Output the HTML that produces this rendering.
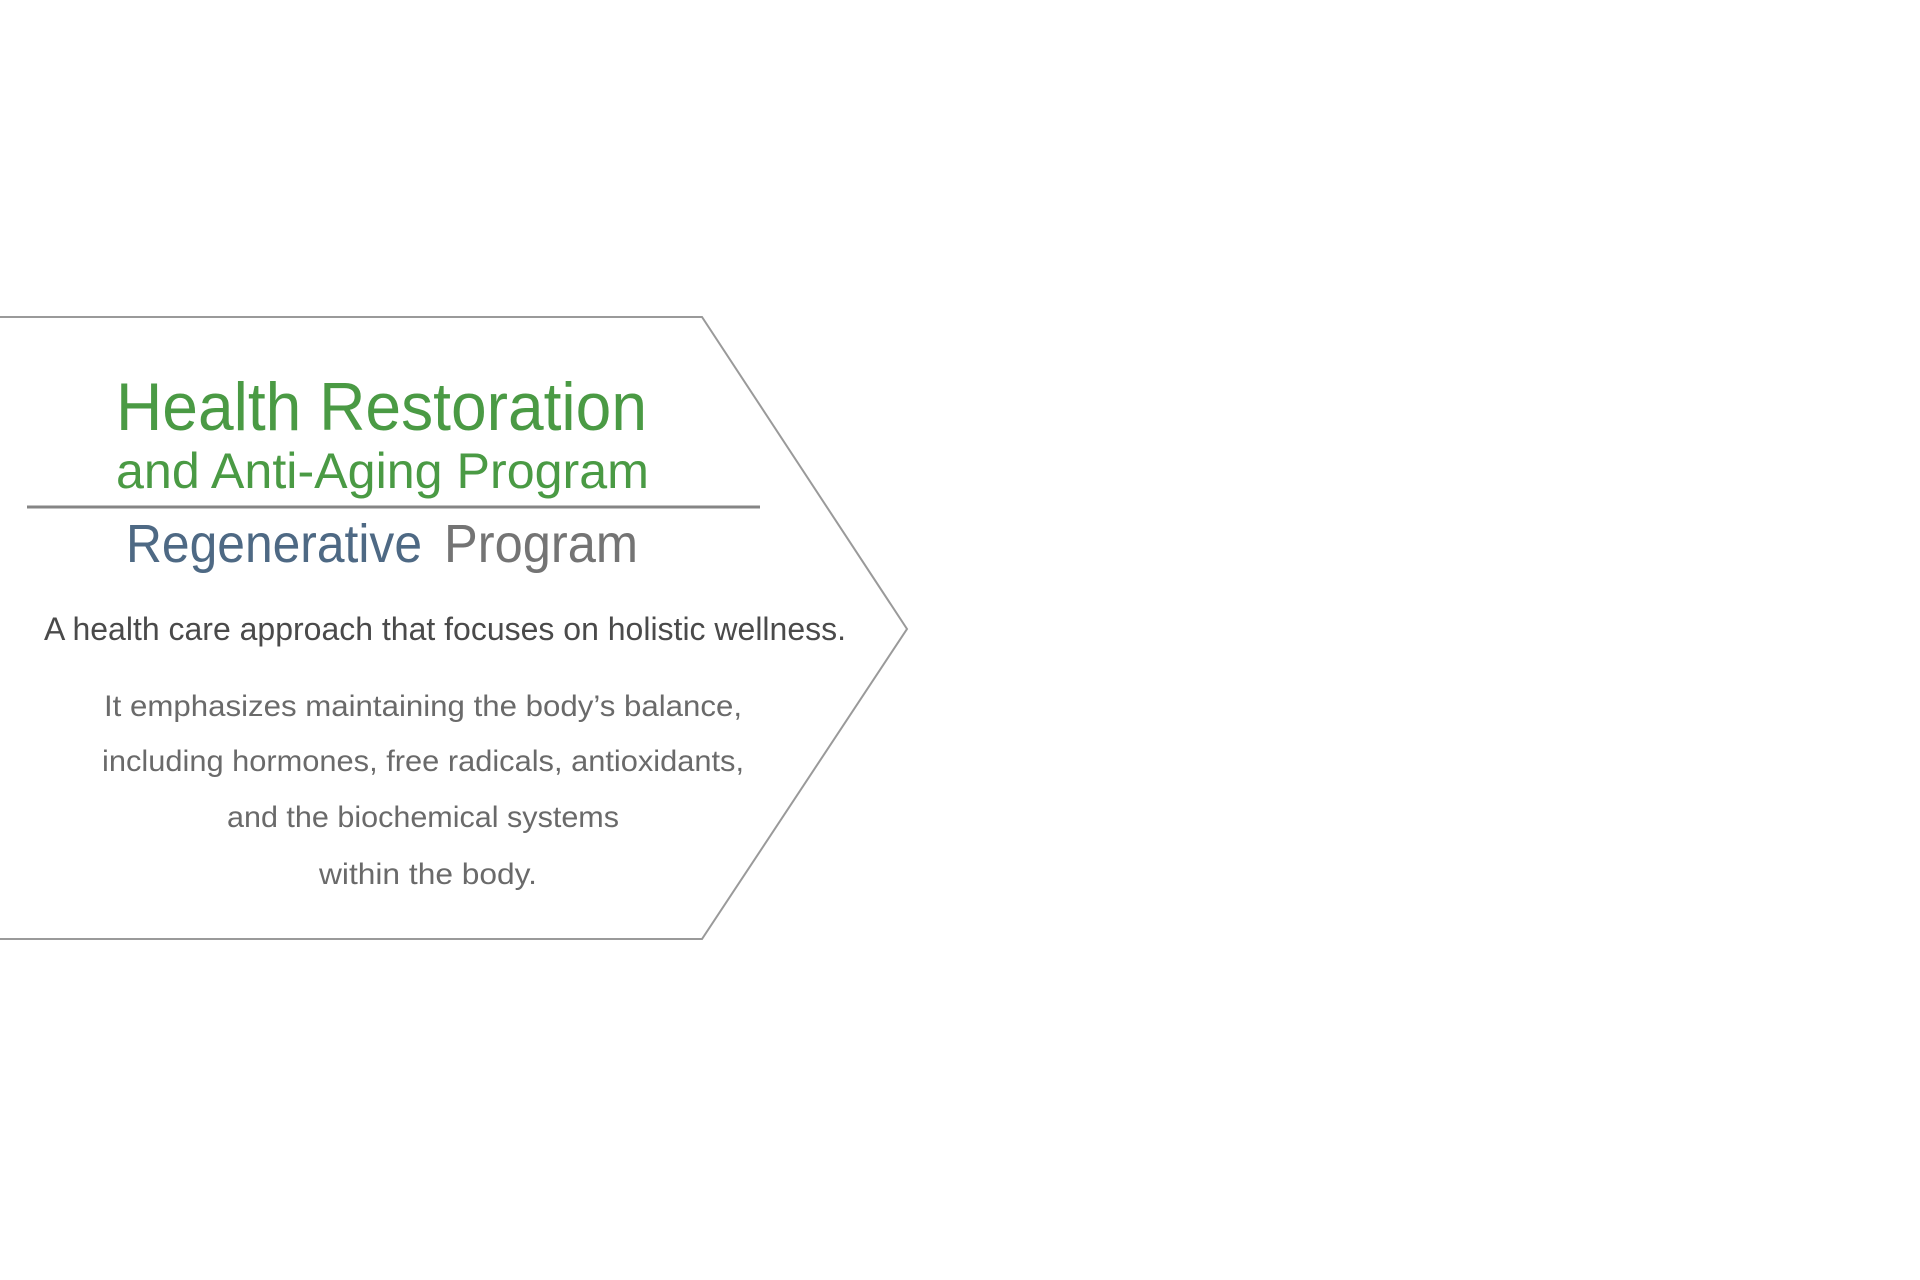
<!DOCTYPE html>
<html><head><meta charset="utf-8"><style>
html,body{margin:0;padding:0;background:#fff;width:1920px;height:1280px;overflow:hidden}
svg{display:block}
text{font-family:"Liberation Sans",sans-serif}
</style></head><body>
<svg width="1920" height="1280" viewBox="0 0 1920 1280" xmlns="http://www.w3.org/2000/svg">
<polyline points="0,317 702,317 907,629 702,939 0,939" fill="none" stroke="#9a9a9a" stroke-width="2"/>
<line x1="27" y1="507" x2="760" y2="507" stroke="#858585" stroke-width="3"/>
<text x="116" y="430" font-size="68" fill="#4a9a44" textLength="531" lengthAdjust="spacingAndGlyphs">Health  Restoration</text>
<text x="116" y="488" font-size="50" fill="#4a9a44" textLength="533" lengthAdjust="spacingAndGlyphs">and Anti-Aging Program</text>
<text x="126" y="562" font-size="54" fill="#4e6984" textLength="296" lengthAdjust="spacingAndGlyphs">Regenerative</text>
<text x="444" y="562" font-size="54" fill="#747474" textLength="194" lengthAdjust="spacingAndGlyphs">Program</text>
<text x="44" y="640" font-size="32" fill="#4a4a4a" textLength="802" lengthAdjust="spacingAndGlyphs">A health care approach that focuses on holistic wellness.</text>
<g font-size="30" fill="#6a6a6a" text-anchor="middle">
<text x="423" y="716" textLength="638" lengthAdjust="spacingAndGlyphs">It emphasizes maintaining the body’s balance,</text>
<text x="423" y="771" textLength="642" lengthAdjust="spacingAndGlyphs">including hormones, free radicals, antioxidants,</text>
<text x="423" y="827" textLength="392" lengthAdjust="spacingAndGlyphs">and the biochemical systems</text>
<text x="428" y="884" textLength="218" lengthAdjust="spacingAndGlyphs">within the body.</text>
</g>
</svg>
</body></html>
